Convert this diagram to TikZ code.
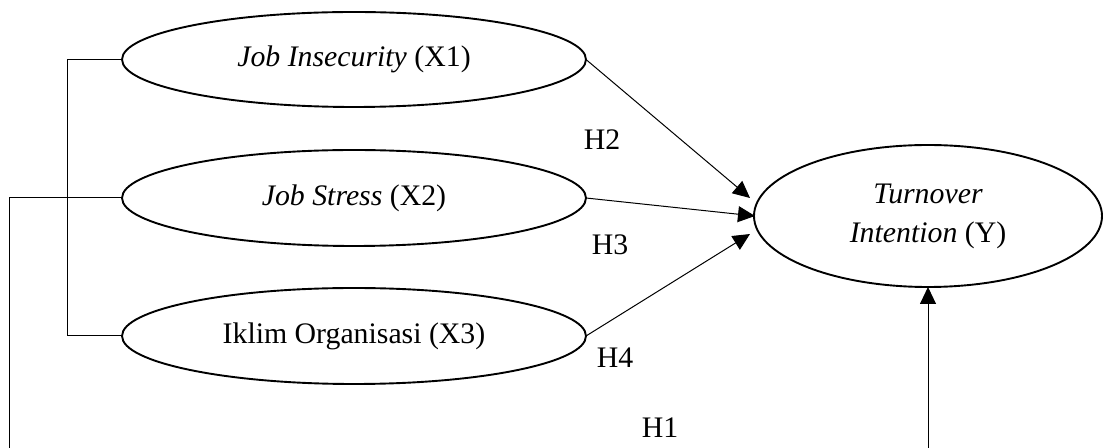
\documentclass[tikz,border=0pt]{standalone}
\usepackage{fontspec}
\setmainfont{Liberation Serif}
\usetikzlibrary{arrows.meta,shapes.geometric}
\begin{document}
\begin{tikzpicture}[x=0.5pt,y=-0.5pt,
  var/.style={draw, ellipse, line width=0.95pt, inner sep=0pt, outer sep=0pt,
    font=\fontsize{14.9}{19.5}\selectfont, align=center},
  conn/.style={line width=0.5pt},
  arr/.style={line width=0.5pt, -{Triangle[length=8.5pt,width=8pt]}},
  lbl/.style={font=\fontsize{14.9}{19.5}\selectfont, inner sep=0pt}]
\useasboundingbox (0,0) rectangle (1103,448);
\node[var, minimum width=232pt, minimum height=47.5pt] (X1) at (354,59.5) {\textit{Job Insecurity} (X1)};
\node[var, minimum width=232pt, minimum height=48pt] (X2) at (354,198) {\textit{Job Stress} (X2)};
\node[var, minimum width=232pt, minimum height=48pt] (X3) at (354,336) {Iklim Organisasi (X3)};
\node[var, minimum width=174pt, minimum height=71pt] (Y) at (928,216) {\textit{Turnover}\\\textit{Intention} (Y)};
\coordinate (brk) at (67,0);
\coordinate (fl) at (9,448);
\coordinate (vb) at (928,448);
\coordinate (ta) at (750,198);
\coordinate (tb) at (755,216);
\coordinate (tc) at (750,234);
\draw[conn] (X1.west) -- (X1.west -| brk) -- (X3.west -| brk) -- (X3.west);
\draw[conn] (X2.west) -| (fl);
\draw[arr] (X1.east) -- (ta);
\draw[arr] (X2.east) -- (tb);
\draw[arr] (X3.east) -- (tc);
\draw[arr] (vb) -- (vb |- Y.south);
\node[lbl] (H2) at (602,140) {H2};
\node[lbl] (H3) at (610,245) {H3};
\node[lbl] (H4) at (615,358) {H4};
\node[lbl] (H1) at (660,428) {H1};
\end{tikzpicture}
\end{document}
